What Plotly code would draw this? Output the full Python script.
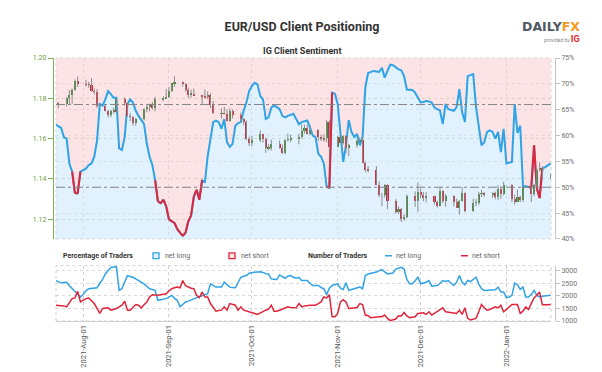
import plotly.graph_objects as go
import pandas as pd

# ---------------- data ----------------
sent_start, sent_end = "2021-07-22", "2022-01-17"
candle_start, candle_end = "2021-07-23", "2022-01-17"

# IG client sentiment: % of traders net long (daily)
net_long_pct = (
    [62.1, 61.8, 61.5, 59.7, 59.4, 54.6, 53.0, 48.9, 48.8, 53.0]
    + [53.3, 53.6, 54.3, 54.6, 55.9, 59.0, 66.1, 65.8, 67.0, 68.6, 68.0, 67.3, 67.3, 57.5, 57.2, 59.7,
       66.1, 67.0, 66.4, 64.8, 63.8, 63.0, 62.2, 58.4, 55.9, 54.3, 51.4, 47.3, 46.9, 47.6, 46.3]
    + [43.8, 43.4, 43.1, 41.9, 41.2, 40.6, 41.2, 43.4, 44.5, 48.2, 49.5, 47.6, 51.4, 50.9, 56.0,
       59.4, 62.6, 62.9, 62.6, 61.3, 63.2, 58.7, 57.8, 58.4, 61.9, 62.4, 62.6, 64.8, 66.4, 68.6]
    + [69.6, 70.2, 69.9, 67.7, 67.0, 63.2, 63.5, 65.4, 65.8, 65.5, 65.1, 63.8, 63.5, 63.8, 64.0, 64.2,
       63.2, 62.2, 62.6, 62.8, 62.9, 61.6, 60.0, 59.7, 56.5, 55.9, 54.6, 50.1, 49.9, 68.3, 68.1]
    + [66.1, 60.0, 54.9, 58.1, 63.0, 60.7, 59.7, 60.3, 58.1, 59.7, 69.3, 72.1, 72.3, 72.5, 72.4,
       72.3, 73.1, 71.2, 72.5, 73.7, 73.6, 73.2, 72.8, 72.6, 71.5, 68.9, 68.8, 68.8, 68.3, 67.3]
    + [66.4, 66.5, 66.7, 66.6, 66.4, 65.4, 65.1, 64.8, 62.2, 66.1, 65.1, 64.9, 64.8, 65.5, 69.0, 64.5,
       62.6, 71.5, 71.7, 71.9, 65.6, 62.0, 58.1, 58.7, 60.7, 61.0, 60.7, 59.4, 60.7, 56.8, 61.3]
    + [54.6, 54.7, 54.9, 66.1, 60.5, 61.9, 50.2, 50.2, 50.1, 49.9, 58.1, 49.8, 47.9, 53.6, 53.9, 54.3, 54.6]
)

# Number of traders net long (daily)
net_long_count = (
    [2608, 2560, 2516, 2530, 2542, 2400, 2281, 2150, 2046, 1954]
    + [2050, 2200, 2281, 2290, 2300, 2320, 2500, 2650, 2869, 3000, 3130, 3150, 3157, 2216, 2281, 2550,
       2804, 2770, 2738, 2670, 2608, 2540, 2477, 2380, 2281, 2250, 2216, 1823, 1850, 1870, 1889]
    + [1950, 2019, 1900, 1823, 1562, 1650, 1758, 1790, 1823, 1880, 1920, 1954, 2000, 2046, 2085,
       2477, 2400, 2346, 2346, 2346, 2542, 2440, 2346, 2330, 2320, 2530, 2738, 2780, 2804, 2900]
    + [2934, 2940, 2950, 2960, 2930, 2880, 2869, 2673, 2660, 2647, 2830, 2760, 2699, 2780, 2804, 2740,
       2700, 2738, 2608, 2608, 2608, 2500, 2412, 2412, 2412, 2330, 2281, 2046, 2300, 2412, 2450]
    + [2477, 2307, 2250, 2516, 2216, 2250, 2281, 2320, 2346, 2281, 2804, 2869, 2890, 2908, 2950,
       3000, 3039, 2950, 2869, 2890, 2908, 3065, 3100, 3130, 3065, 2650, 2477, 2477, 2600, 2738]
    + [2477, 2500, 2542, 2608, 2385, 2400, 2412, 2500, 2608, 2568, 2608, 2500, 2412, 2542, 2804, 2542,
       2438, 2608, 2568, 2650, 2738, 2477, 2281, 2216, 2216, 2216, 2230, 2242, 2346, 2150, 2150]
    + [1928, 1954, 2019, 2503, 2438, 2255, 2346, 1954, 1954, 2050, 2216, 2019, 1954, 1980, 2000, 2019, 2019]
)

# Number of traders net short (daily)
net_short_count = (
    [1627, 1627, 1627, 1600, 1562, 1720, 1889, 1915, 2176, 1758]
    + [1820, 1889, 1915, 1823, 1693, 1500, 1301, 1497, 1510, 1523, 1431, 1460, 1497, 1560, 1627, 1784,
       1431, 1431, 1540, 1654, 1627, 1523, 1650, 1758, 1954, 2046, 2030, 2019, 2040, 2060, 2085]
    + [2200, 2281, 2320, 2346, 2320, 2608, 2400, 2346, 2300, 2281, 2019, 1928, 2150, 1954, 1954,
       1693, 1550, 1392, 1420, 1431, 1562, 1431, 1693, 1650, 1627, 1431, 1562, 1431, 1400, 1392]
    + [1350, 1301, 1261, 1320, 1392, 1430, 1470, 1627, 1392, 1392, 1430, 1470, 1520, 1562, 1540, 1523,
       1523, 1693, 1562, 1600, 1627, 1627, 1627, 1627, 1690, 1758, 1954, 1915, 2046, 1170, 1170]
    + [1301, 1758, 1850, 1758, 1497, 1510, 1523, 1536, 1693, 1654, 1235, 1209, 1131, 1150, 1170,
       1170, 1170, 1235, 1105, 1013, 1050, 1078, 1209, 1196, 1340, 1200, 1131, 1150, 1170, 1301]
    + [1310, 1327, 1261, 1366, 1235, 1301, 1380, 1457, 1523, 1366, 1350, 1340, 1320, 1301, 1431, 1261,
       1523, 1105, 1039, 1070, 1105, 1366, 1654, 1523, 1431, 1460, 1497, 1562, 1523, 1627, 1366]
    + [1460, 1562, 1654, 1654, 1654, 1301, 1392, 1562, 1457, 1700, 1915, 2019, 2150, 1650, 1640, 1650, 1660]
)

# EUR/USD daily candles (weekdays)
opens = (
    [1.1772, 1.1771, 1.1801, 1.1817, 1.1842, 1.1887]
    + [1.1870, 1.1868, 1.1867, 1.1835, 1.1833, 1.1762, 1.1737, 1.1717, 1.1739, 1.1730, 1.1795,
       1.1777, 1.1711, 1.1708, 1.1676, 1.1697, 1.1747, 1.1756, 1.1773, 1.1751, 1.1795, 1.1800]
    + [1.1808, 1.1837, 1.1875, 1.1880, 1.1870, 1.1840, 1.1817, 1.1823, 1.1813, 1.1810, 1.1805,
       1.1817, 1.1765, 1.1725, 1.1727, 1.1723, 1.1688, 1.1739, 1.1718, 1.1695, 1.1683, 1.1598]
    + [1.1580, 1.1595, 1.1621, 1.1597, 1.1553, 1.1555, 1.1573, 1.1552, 1.1530, 1.1594, 1.1596,
       1.1601, 1.1608, 1.1636, 1.1652, 1.1622, 1.1644, 1.1608, 1.1597, 1.1603, 1.1682]
    + [1.1559, 1.1606, 1.1580, 1.1612, 1.1553, 1.1568, 1.1588, 1.1595, 1.1479, 1.1446, 1.1444,
       1.1368, 1.1320, 1.1320, 1.1369, 1.1289, 1.1238, 1.1250, 1.1201, 1.1209, 1.1317, 1.1290]
    + [1.1337, 1.1320, 1.1303, 1.1315, 1.1285, 1.1266, 1.1342, 1.1291, 1.1317, 1.1285, 1.1258, 1.1290,
       1.1330, 1.1240, 1.1281, 1.1282, 1.1326, 1.1327, 1.1319, 1.1329, 1.1312, 1.1349, 1.1325]
    + [1.1372, 1.1299, 1.1287, 1.1310, 1.1296, 1.1359, 1.1326, 1.1368, 1.1442, 1.1455, 1.1413]
)
highs = (
    [1.1781, 1.1805, 1.1841, 1.1849, 1.1893, 1.1909]
    + [1.1892, 1.1882, 1.1900, 1.1849, 1.1846, 1.1767, 1.1742, 1.1742, 1.1754, 1.1800, 1.1804,
       1.1779, 1.1727, 1.1711, 1.1703, 1.1749, 1.1767, 1.1774, 1.1782, 1.1808, 1.1810, 1.1846]
    + [1.1857, 1.1872, 1.1909, 1.1883, 1.1875, 1.1852, 1.1844, 1.1848, 1.1815, 1.1844, 1.1834,
       1.1825, 1.1787, 1.1750, 1.1757, 1.1745, 1.1750, 1.1744, 1.1729, 1.1701, 1.1690, 1.1610]
    + [1.1614, 1.1641, 1.1623, 1.1605, 1.1572, 1.1595, 1.1590, 1.1570, 1.1595, 1.1624, 1.1620,
       1.1624, 1.1670, 1.1668, 1.1668, 1.1666, 1.1646, 1.1620, 1.1622, 1.1692, 1.1691]
    + [1.1614, 1.1616, 1.1617, 1.1616, 1.1574, 1.1597, 1.1608, 1.1608, 1.1487, 1.1464, 1.1464,
       1.1387, 1.1330, 1.1374, 1.1374, 1.1300, 1.1264, 1.1255, 1.1225, 1.1323, 1.1338, 1.1383]
    + [1.1353, 1.1336, 1.1335, 1.1317, 1.1292, 1.1355, 1.1344, 1.1325, 1.1319, 1.1302, 1.1296, 1.1360,
       1.1333, 1.1302, 1.1300, 1.1335, 1.1345, 1.1335, 1.1334, 1.1337, 1.1368, 1.1362, 1.1386]
    + [1.1375, 1.1322, 1.1346, 1.1316, 1.1364, 1.1363, 1.1374, 1.1454, 1.1482, 1.1464, 1.1425]
)
lows = (
    [1.1751, 1.1760, 1.1771, 1.1771, 1.1838, 1.1856]
    + [1.1858, 1.1852, 1.1834, 1.1819, 1.1752, 1.1735, 1.1705, 1.1706, 1.1724, 1.1724, 1.1763,
       1.1710, 1.1687, 1.1665, 1.1664, 1.1690, 1.1731, 1.1735, 1.1745, 1.1735, 1.1785, 1.1796]
    + [1.1801, 1.1832, 1.1858, 1.1858, 1.1834, 1.1802, 1.1803, 1.1813, 1.1770, 1.1799, 1.1797,
       1.1751, 1.1723, 1.1700, 1.1719, 1.1685, 1.1684, 1.1700, 1.1681, 1.1667, 1.1592, 1.1563]
    + [1.1562, 1.1582, 1.1580, 1.1529, 1.1542, 1.1541, 1.1550, 1.1524, 1.1522, 1.1585, 1.1582,
       1.1571, 1.1600, 1.1625, 1.1620, 1.1618, 1.1589, 1.1588, 1.1585, 1.1582, 1.1535]
    + [1.1558, 1.1580, 1.1570, 1.1528, 1.1513, 1.1555, 1.1579, 1.1480, 1.1433, 1.1432, 1.1372,
       1.1309, 1.1264, 1.1308, 1.1250, 1.1227, 1.1226, 1.1186, 1.1192, 1.1205, 1.1261, 1.1236]
    + [1.1305, 1.1289, 1.1283, 1.1272, 1.1258, 1.1262, 1.1279, 1.1262, 1.1263, 1.1256, 1.1222, 1.1288,
       1.1235, 1.1236, 1.1264, 1.1271, 1.1310, 1.1311, 1.1306, 1.1299, 1.1294, 1.1300, 1.1317]
    + [1.1285, 1.1272, 1.1286, 1.1285, 1.1286, 1.1285, 1.1314, 1.1358, 1.1437, 1.1400, 1.1400]
)
closes = (
    [1.1771, 1.1801, 1.1817, 1.1842, 1.1887, 1.1870]
    + [1.1868, 1.1867, 1.1835, 1.1833, 1.1762, 1.1737, 1.1717, 1.1739, 1.1730, 1.1795, 1.1777,
       1.1711, 1.1708, 1.1676, 1.1697, 1.1747, 1.1756, 1.1773, 1.1751, 1.1795, 1.1800, 1.1808]
    + [1.1837, 1.1875, 1.1880, 1.1870, 1.1840, 1.1817, 1.1823, 1.1813, 1.1810, 1.1805, 1.1817,
       1.1765, 1.1725, 1.1727, 1.1723, 1.1688, 1.1739, 1.1718, 1.1695, 1.1683, 1.1598, 1.1580]
    + [1.1595, 1.1621, 1.1597, 1.1553, 1.1555, 1.1573, 1.1552, 1.1530, 1.1594, 1.1596, 1.1601,
       1.1608, 1.1636, 1.1652, 1.1622, 1.1644, 1.1608, 1.1597, 1.1603, 1.1682, 1.1559]
    + [1.1606, 1.1580, 1.1612, 1.1553, 1.1568, 1.1588, 1.1595, 1.1479, 1.1446, 1.1444, 1.1368,
       1.1320, 1.1320, 1.1369, 1.1289, 1.1238, 1.1250, 1.1201, 1.1209, 1.1317, 1.1290, 1.1337]
    + [1.1320, 1.1303, 1.1315, 1.1285, 1.1266, 1.1342, 1.1291, 1.1317, 1.1285, 1.1258, 1.1290, 1.1330,
       1.1240, 1.1281, 1.1282, 1.1326, 1.1327, 1.1319, 1.1329, 1.1312, 1.1349, 1.1325, 1.1372]
    + [1.1299, 1.1287, 1.1310, 1.1296, 1.1359, 1.1326, 1.1368, 1.1442, 1.1455, 1.1413, 1.1416]
)

ref_levels = [50, 66]          # dash-dot reference lines (% axis)
month_tick0 = "2021-08-01"

# ---------------- geometry ----------------
W, H = 602, 372
ML, MR, MT, MB = 45, 55, 50, 56
PW, PH = W - ML - MR, H - MT - MB


def px_x(px):
    return (px - ML) / PW


def px_y(py):
    return (H - MB - py) / PH


sent_dates = pd.date_range(sent_start, sent_end, freq="D")
candle_dates = pd.bdate_range(candle_start, candle_end)
n = min(len(sent_dates), len(net_long_pct))
sent_dates = sent_dates[:n]
net_long_pct = net_long_pct[:n]

pct_range = [40, 75]
price_range = [1.1102, 1.20]
count_range = [1000, 3200]
x_range = ["2021-07-22 04:00", "2022-01-17 03:00"]

BLUE = "#2fa3e6"
RED = "#e0253a"
GREEN_C = "#3b8a2f"
RED_C = "#d4253b"
FONT = "Roboto"

fig = go.Figure()

# blue fill (below net long %)
fig.add_trace(go.Scatter(
    x=sent_dates, y=net_long_pct, mode="lines", line=dict(width=0, color="rgba(0,0,0,0)"),
    fill="tozeroy", fillcolor="rgba(205,231,252,0.6)", hoverinfo="skip", showlegend=False,
    xaxis="x", yaxis="y"))
# pink fill (above net long %)
fig.add_trace(go.Scatter(
    x=sent_dates, y=[pct_range[1]] * n, mode="lines", line=dict(width=0, color="rgba(0,0,0,0)"),
    fill="tonexty", fillcolor="rgba(250,208,212,0.6)", hoverinfo="skip", showlegend=False,
    xaxis="x", yaxis="y"))
# net long % line
fig.add_trace(go.Scatter(
    x=sent_dates, y=net_long_pct, mode="lines", line=dict(width=2, color=BLUE),
    hoverinfo="skip", showlegend=False, xaxis="x", yaxis="y"))
red_x, red_y = [], []
for i in range(n - 1):
    a, b = net_long_pct[i], net_long_pct[i + 1]
    if a < 50 or b < 50:
        red_x += [sent_dates[i], sent_dates[i + 1], None]
        red_y += [a, b, None]
fig.add_trace(go.Scatter(
    x=red_x, y=red_y, mode="lines", line=dict(width=2, color=RED),
    hoverinfo="skip", showlegend=False, xaxis="x", yaxis="y"))

# candles (price axis overlays the % axis)
m = min(len(candle_dates), len(opens), len(highs), len(lows), len(closes))
cd = list(candle_dates[:m])
wx, wy = [], []
for i in range(m):
    wx += [cd[i], cd[i], None]
    wy += [lows[i], highs[i], None]
fig.add_trace(go.Scatter(
    x=wx, y=wy, mode="lines", line=dict(width=1, color="#8d8d8d"),
    hoverinfo="skip", showlegend=False, xaxis="x", yaxis="y2"))
fig.add_trace(go.Bar(
    x=cd, y=[closes[i] - opens[i] for i in range(m)], base=opens[:m],
    width=0.75 * 86400000,
    marker=dict(color=[GREEN_C if closes[i] >= opens[i] else RED_C for i in range(m)], line=dict(width=0)),
    hoverinfo="skip", showlegend=False, xaxis="x", yaxis="y2"))

# number of traders
fig.add_trace(go.Scatter(
    x=sent_dates, y=net_long_count[:n], mode="lines", line=dict(width=1.5, color=BLUE),
    hoverinfo="skip", showlegend=False, xaxis="x2", yaxis="y3"))
fig.add_trace(go.Scatter(
    x=sent_dates, y=net_short_count[:n], mode="lines", line=dict(width=1.5, color=RED),
    hoverinfo="skip", showlegend=False, xaxis="x2", yaxis="y3"))

xdom = [3 / PW, 1 - 4 / PW]
top_dom = [px_y(233), 1]
bot_dom = [0, px_y(260)]
grid_gray = "#cfcfcf"

fig.update_layout(
    width=W, height=H,
    margin=dict(l=ML, r=MR, t=MT, b=MB),
    paper_bgcolor="white", plot_bgcolor="white",
    font=dict(family=FONT, size=7, color="#666"),
    showlegend=False, bargap=0,
    title=dict(text="<b>EUR/USD Client Positioning</b>", x=294 / W, xanchor="center",
               y=1 - 19 / H, yanchor="middle", font=dict(family=FONT, size=12.5, color="#333")),
    xaxis=dict(domain=xdom, anchor="y", range=x_range, type="date", showticklabels=False,
               showgrid=True, gridcolor=grid_gray, griddash="dot", gridwidth=1,
               dtick="M1", tick0=month_tick0, ticks="", zeroline=False, showline=False),
    yaxis=dict(domain=top_dom, anchor="free", position=1, side="right", range=pct_range,
               dtick=5, tick0=40, ticksuffix="%", showline=True, linecolor="#c4c4c4", linewidth=1,
               ticks="outside", ticklen=4, tickcolor="#c4c4c4",
               tickfont=dict(size=7, color="#707070"),
               showgrid=True, gridcolor="#d8d8d8", griddash="dot", zeroline=False),
    yaxis2=dict(overlaying="y", anchor="free", position=0, side="left", range=price_range,
                dtick=0.02, tick0=1.12, tickformat=".2f", showline=True, linecolor="#7fb35a",
                linewidth=1.2, ticks="outside", ticklen=5, tickcolor="#7fb35a",
                tickfont=dict(size=7, color="#6a9e42"),
                showgrid=True, gridcolor="#b4d494", griddash="dot", zeroline=False),
    xaxis2=dict(domain=xdom, anchor="y3", range=x_range, type="date", tickformat="%Y-%b-%d",
                tickangle=-90, dtick="M1", tick0=month_tick0, showgrid=True, gridcolor=grid_gray,
                griddash="dot", showline=True, linecolor="#d0d0d0", ticks="",
                tickfont=dict(size=7.5, color="#555"), zeroline=False),
    yaxis3=dict(domain=bot_dom, anchor="free", position=1, side="right", range=count_range,
                tickvals=[1000, 1500, 2000, 2500, 3000], showline=True, linecolor="#c4c4c4",
                ticks="outside", ticklen=4, tickcolor="#c4c4c4", tickfont=dict(size=7, color="#707070"),
                showgrid=True, gridcolor="#d8d8d8", griddash="dot", zeroline=False),
)

shapes = []
# dotted plot borders
for xr, yr in (("x domain", "y domain"), ("x2 domain", "y3 domain")):
    shapes.append(dict(type="rect", xref=xr, yref=yr, x0=0, x1=1, y0=0, y1=1,
                       line=dict(color="#d0d0d0", width=1, dash="dot"), layer="below"))
for lv in ref_levels:
    shapes.append(dict(type="line", xref="x domain", yref="y", x0=0, x1=1, y0=lv, y1=lv,
                       line=dict(color="#858585", width=1, dash="dashdot")))
# legend icons
ly0, ly1 = px_y(253), px_y(247)
shapes.append(dict(type="rect", xref="paper", yref="paper", x0=px_x(145), x1=px_x(151), y0=ly0, y1=ly1,
                   line=dict(color=BLUE, width=1.3), fillcolor="#e6f3fd"))
shapes.append(dict(type="rect", xref="paper", yref="paper", x0=px_x(221), x1=px_x(227), y0=ly0, y1=ly1,
                   line=dict(color=RED, width=1.3), fillcolor="#fde6e8"))
shapes.append(dict(type="line", xref="paper", yref="paper", x0=px_x(377), x1=px_x(384), y0=px_y(250),
                   y1=px_y(250), line=dict(color=BLUE, width=1.5)))
shapes.append(dict(type="line", xref="paper", yref="paper", x0=px_x(453), x1=px_x(460), y0=px_y(250),
                   y1=px_y(250), line=dict(color=RED, width=1.5)))
fig.update_layout(shapes=shapes)

ann = []


def add_text(text, px, py, size=7, color="#555", anchor="left", family=FONT):
    ann.append(dict(text=text, xref="paper", yref="paper", x=px_x(px), y=px_y(py),
                    xanchor=anchor, yanchor="middle", showarrow=False,
                    font=dict(size=size, color=color, family=family)))


add_text("<b>IG Client Sentiment</b>", 294, 43, size=9, color="#333", anchor="center")
add_text("<b>Percentage of Traders</b>", 53, 250.5, size=7, color="#333")
add_text("net long", 155, 250.5, size=7, color="#666")
add_text("net short", 231, 250.5, size=7, color="#666")
add_text("<b>Number of Traders</b>", 298, 250.5, size=7, color="#333")
add_text("net long", 386, 250.5, size=7, color="#666")
add_text("net short", 462, 250.5, size=7, color="#666")
# logo
add_text("<b>DAILY</b><b><span style='color:#f39a1e'>FX</span></b>", 574, 18, size=12.5,
         color="#505a64", anchor="right", family="DejaVu Sans")
add_text("provided by <b><span style='color:#e3262d;font-size:9px'>IG</span></b>", 574, 31, size=5,
         color="#888", anchor="right")
fig.update_layout(annotations=ann)

fig.write_html("out.html")
